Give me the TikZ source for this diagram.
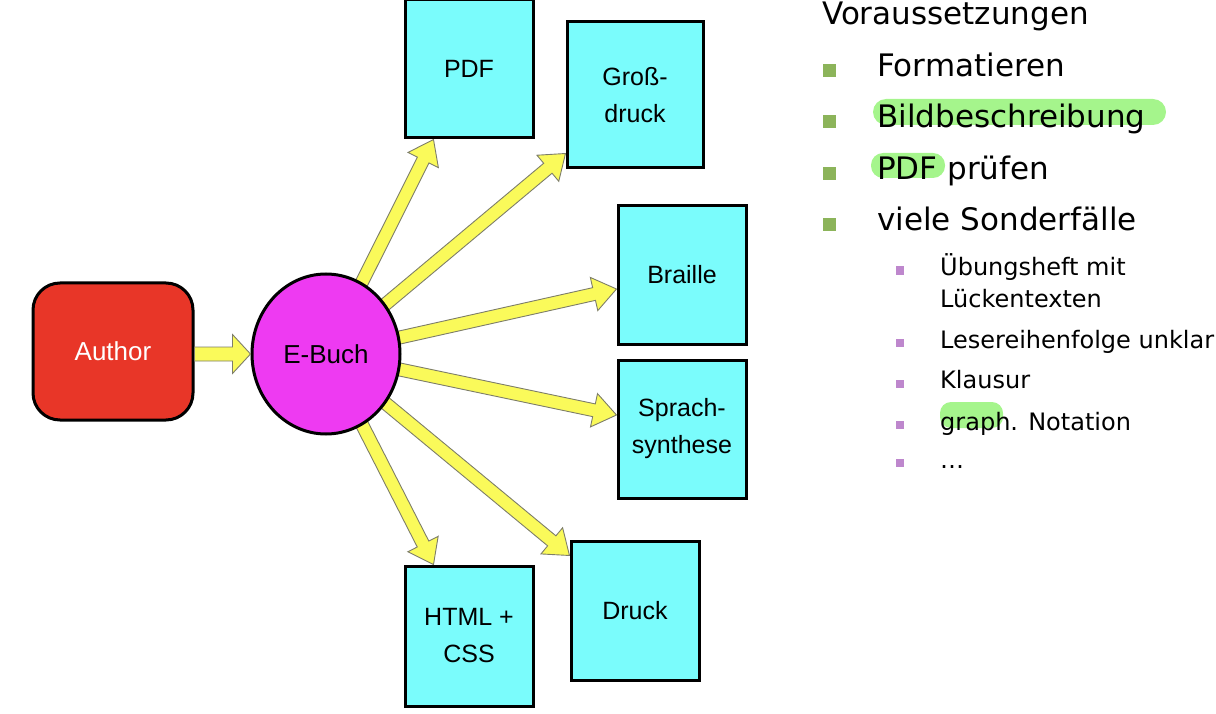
\documentclass[tikz,border=0pt]{standalone}
\usepackage{fontspec}
\setmainfont{Liberation Sans}
\newfontfamily\dvs{DejaVu Sans}
\usetikzlibrary{calc,shapes.geometric}
\pgfdeclarelayer{background}
\pgfsetlayers{background,main}
\definecolor{authred}{RGB}{232,54,40}
\definecolor{ebmag}{RGB}{238,58,242}
\definecolor{boxcyan}{RGB}{122,252,252}
\definecolor{arrowyellow}{RGB}{250,250,90}
\definecolor{arrowgray}{RGB}{125,125,105}
\definecolor{bulgreen}{RGB}{140,180,90}
\definecolor{bulpurple}{RGB}{190,135,205}
\definecolor{hilite}{RGB}{165,245,140}
\newcommand\yarrow[5]{%
  \coordinate (ya-h) at ($(#2)!#5!(#1)$);
  \filldraw[yarrowstyle] ($(#1)!#3!90:(#2)$) -- ($(ya-h)!#3!-90:(#1)$) -- ($(ya-h)!#4!-90:(#1)$) -- (#2) -- ($(ya-h)!#4!90:(#1)$) -- ($(ya-h)!#3!90:(#1)$) -- ($(#1)!#3!-90:(#2)$) -- cycle;}
\begin{document}
\begin{tikzpicture}[x=1pt,y=-1pt,
  box/.style={draw=black, line width=3pt, fill=boxcyan, minimum width=128pt, minimum height=138pt, inner sep=0pt, align=center, font=\fontsize{25}{37}\selectfont},
  yarrowstyle/.style={draw=arrowgray, line width=0.9pt, fill=arrowyellow, line join=miter},
  bigtext/.style={anchor=base west, inner sep=0pt, font=\dvs\fontsize{31}{37}\selectfont},
  smalltext/.style={anchor=base west, inner sep=0pt, font=\dvs\fontsize{24}{31}\selectfont},
]
\useasboundingbox (0,0) rectangle (1216,714);
% left part
\node[rectangle, rounded corners=27pt, draw=black, line width=3pt, fill=authred, minimum width=160pt, minimum height=137pt, inner sep=0pt, text=white, font=\fontsize{26}{30}\selectfont] (author) at (113,351.5) {Author};
\node[ellipse, draw=black, line width=3pt, fill=ebmag, minimum width=148pt, minimum height=160pt, inner sep=0pt, font=\fontsize{26}{30}\selectfont] (eb) at (326,354) {E-Buch};
\node[box] (pdf) at (469,69) {PDF};
\node[box, minimum width=136pt, minimum height=146pt] (gross) at (635,95) {Groß-\\druck};
\node[box] (braille) at (682,275) {Braille};
\node[box] (sprach) at (682,429) {Sprach-\\synthese};
\node[box, minimum height=139pt] (druck) at (635,610.5) {Druck};
\node[box, minimum height=140pt] (html) at (469,636) {HTML +\\CSS};
% arrow end points
\coordinate (tpdf) at ($(pdf.south west)+(30,0)$);
\coordinate (tgross) at ($(gross.south west)+(0,-16)$);
\coordinate (tbraille) at ($(braille.west)+(0,14)$);
\coordinate (tsprach) at ($(sprach.west)+(0,-14)$);
\coordinate (tdruck) at ($(druck.north west)+(0,16)$);
\coordinate (thtml) at ($(html.north west)+(30,0)$);
\coordinate (sauthor) at (author.east |- eb.west);
\begin{pgfonlayer}{background}
\yarrow{eb.center}{tpdf}{6.5pt}{17pt}{23pt}
\yarrow{eb.center}{tgross}{6.5pt}{17pt}{23pt}
\yarrow{eb.center}{tbraille}{6.5pt}{17pt}{23pt}
\yarrow{eb.center}{tsprach}{6.5pt}{17pt}{23pt}
\yarrow{eb.center}{tdruck}{6.5pt}{17pt}{23pt}
\yarrow{eb.center}{thtml}{6.5pt}{17pt}{23pt}
\end{pgfonlayer}
\yarrow{sauthor}{eb.west}{7pt}{19.5pt}{18pt}
% right text
\fill[hilite, rounded corners=13pt] (873,99) rectangle (1166,125);
\fill[hilite, rounded corners=12pt] (871,153) rectangle (945,178);
\fill[hilite, rounded corners=11pt] (940,402) rectangle (1003,428);
\node[bigtext] (t0) at (822,25) {Voraussetzungen};
\node[bigtext] (t1) at (877,77) {Formatieren};
\node[bigtext] (t2) at (877,128) {Bildbeschreibung};
\node[bigtext] (t3) at (877,180) {PDF prüfen};
\node[bigtext] (t4) at (877,231) {viele Sonderfälle};
\foreach \yy in {77,128,180,231} \fill[bulgreen] (823,\yy-13) rectangle (836,\yy);
\node[smalltext] (s1) at (940,276) {Übungsheft mit};
\node[smalltext] (s1b) at (940,307) {Lückentexten};
\node[smalltext] (s2) at (940,348) {Lesereihenfolge unklar};
\node[smalltext] (s3) at (940,388) {Klausur};
\node[smalltext] (s4) at (940,430) {graph. Notation};
\node[smalltext] (s5) at (940,468) {…};
\foreach \yy in {275,347,388,429,467} \fill[bulpurple] (895.5,\yy-8.5) rectangle (904,\yy);
\end{tikzpicture}
\end{document}
